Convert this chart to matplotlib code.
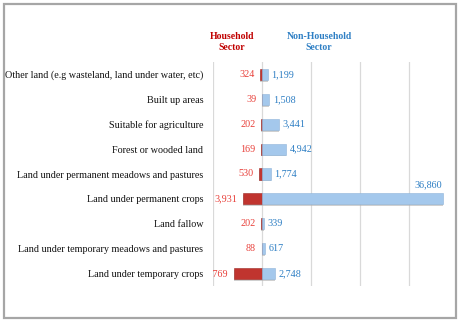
import matplotlib
matplotlib.use("Agg")
import matplotlib.pyplot as plt
from matplotlib.patches import Rectangle

categories = [
    "Other land (e.g wasteland, land under water, etc)",
    "Built up areas",
    "Suitable for agriculture",
    "Forest or wooded land",
    "Land under permanent meadows and pastures",
    "Land under permanent crops",
    "Land fallow",
    "Land under temporary meadows and pastures",
    "Land under temporary crops",
]
household = [324, 39, 202, 169, 530, 3931, 202, 88, 5769]
non_household = [1199, 1508, 3441, 4942, 1774, 36860, 339, 617, 2748]
header_labels = ["Household\nSector", "Non-Household\nSector"]

plt.rcParams['font.family'] = ['Liberation Serif', 'DejaVu Serif']

W, H = 459, 323
fig = plt.figure(figsize=(W / 100, H / 100), dpi=100)

# frame border
fig.patches.append(Rectangle((4 / W, 5 / H), 452 / W, 314 / H, transform=fig.transFigure,
                             fill=False, edgecolor='#a6a6a6', linewidth=1.6))

ax = fig.add_axes([213 / W, (H - 286) / H, 240 / W, 224 / H])
ax.set_xlim(-10000, 39000)
ax.set_ylim(len(categories) - 0.5, -0.5)

for x in [-10000, 0, 10000, 20000, 30000]:
    ax.axvline(x, color='#d9d9d9', linewidth=0.9, zorder=0)

ys = list(range(len(categories)))
bh = 0.45
red = '#c0342f'
blue = '#a4c8ec'

# shadows
ax.barh([y + 0.07 for y in ys], [-v for v in household], height=bh, color='#b0b0b0', alpha=0.6, zorder=1)
ax.barh([y + 0.07 for y in ys], non_household, height=bh, color='#b0b0b0', alpha=0.6, zorder=1)
ax.barh(ys, [-v for v in household], height=bh, color=red, edgecolor='#9e2a25', linewidth=0.4, zorder=2)
ax.barh(ys, non_household, height=bh, color=blue, edgecolor='#8fb4d9', linewidth=0.4, zorder=2)

for y, v in zip(ys, household):
    ax.annotate(f"{v:,}", xy=(-v, y), xytext=(-4, 0), textcoords='offset points',
                ha='right', va='center', fontsize=7.3, color='#e8403a', clip_on=True,
                annotation_clip=False)

maxv = max(non_household)
for y, v in zip(ys, non_household):
    if v == maxv:
        ax.annotate(f"{v:,}", xy=(v, y), xytext=(0, 7), textcoords='offset points',
                    ha='right', va='bottom', fontsize=7.3, color='#2e7fc4')
    else:
        ax.annotate(f"{v:,}", xy=(v, y), xytext=(2.5, 0), textcoords='offset points',
                    ha='left', va='center', fontsize=7.3, color='#2e7fc4')

ax.set_yticks(ys)
ax.set_yticklabels(categories, fontsize=7.3, color='#111111')
ax.tick_params(axis='y', length=0, pad=7)
ax.set_xticks([])
for s in ax.spines.values():
    s.set_visible(False)
ax.patch.set_alpha(0)

fig.text(232 / W, 1 - 42 / H, header_labels[0], ha='center', va='center', fontsize=7,
         fontweight='bold', color='#c00000', linespacing=1.3)
fig.text(319 / W, 1 - 42 / H, header_labels[1], ha='center', va='center', fontsize=7,
         fontweight='bold', color='#2e7fc4', linespacing=1.3)

fig.savefig('out.png', dpi=100)
